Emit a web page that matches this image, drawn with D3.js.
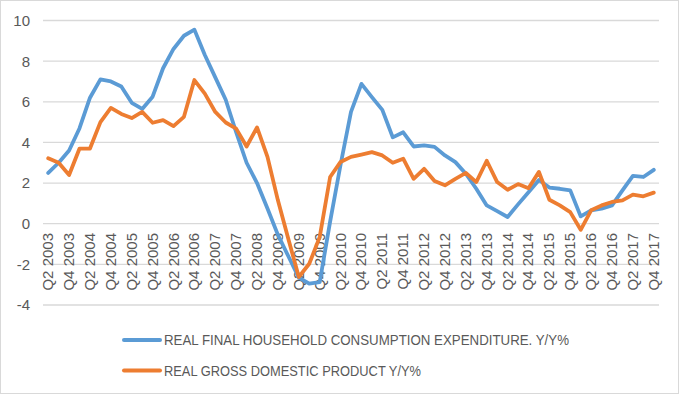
<!DOCTYPE html>
<html>
<head>
<meta charset="utf-8">
<script src="https://cdn.jsdelivr.net/npm/d3@7"></script>
<style>
  body { margin: 0; background: #fff; }
  text { font-family: "Liberation Sans", Arial, sans-serif; fill: #595959; }
</style>
</head>
<body>
<div id="chart"></div>
<script>
// quarters Q2 2003 .. Q4 2017
var quarters = [];
for (var yr = 2003; yr <= 2017; yr++) {
  for (var q = 1; q <= 4; q++) {
    if (yr === 2003 && q < 2) continue;
    quarters.push('Q' + q + ' ' + yr);
  }
}

var consumption = [2.5, 3.0, 3.6, 4.7, 6.2, 7.1, 7.0, 6.75, 5.95, 5.65,
  6.25, 7.65, 8.6, 9.25, 9.55, 8.3, 7.2, 6.1, 4.5, 3.0,
  2.0, 0.75, -0.55, -1.6, -2.65, -2.95, -2.88, 0.1, 2.9, 5.5,
  6.88, 6.23, 5.6, 4.25, 4.5, 3.8, 3.85, 3.78, 3.36, 3.03,
  2.46, 1.72, 0.9, 0.62, 0.33, 0.95, 1.55, 2.15, 1.78, 1.72,
  1.64, 0.36, 0.66, 0.74, 0.9, 1.64, 2.35, 2.3, 2.65];

var gdp = [3.22, 3.0, 2.4, 3.7, 3.7, 5.0, 5.7, 5.4, 5.2, 5.5,
  4.97, 5.1, 4.8, 5.26, 7.07, 6.4, 5.5, 4.98, 4.68, 3.8,
  4.74, 3.29, 1.15, -0.75, -2.62, -1.97, -0.66, 2.3, 3.04, 3.29,
  3.4, 3.52, 3.36, 3.0, 3.2, 2.21, 2.7, 2.1, 1.89, 2.21,
  2.5, 2.05, 3.1, 2.05, 1.67, 1.95, 1.75, 2.55, 1.18, 0.9,
  0.57, -0.3, 0.66, 0.9, 1.07, 1.15, 1.43, 1.35, 1.53];

var yTicks = [-4, -2, 0, 2, 4, 6, 8, 10];

var seriesNames = ['REAL FINAL HOUSEHOLD CONSUMPTION EXPENDITURE. Y/Y%', 'REAL GROSS DOMESTIC PRODUCT Y/Y%'];
var seriesColors = ['#5B9BD5', '#ED7D31'];

var width = 680, height = 395;

var svg = d3.select('#chart')
  .append('svg')
  .attr('width', width)
  .attr('height', height);

// outer border
svg.append('rect')
  .attr('x', 0.5).attr('y', 0.5)
  .attr('width', width - 2).attr('height', height - 2)
  .attr('fill', '#fff')
  .attr('stroke', '#d9d9d9');

var x = d3.scaleBand()
  .domain(quarters)
  .range([43, 659]);

var y = d3.scaleLinear()
  .domain([-4, 10])
  .range([305, 20.5]);

function cx(d) { return x(d) + x.bandwidth() / 2; }

// gridlines
svg.append('g')
  .selectAll('line')
  .data(yTicks)
  .enter()
  .append('line')
  .attr('x1', 43).attr('x2', 659)
  .attr('y1', function(d) { return y(d); })
  .attr('y2', function(d) { return y(d); })
  .attr('stroke', '#d9d9d9')
  .attr('stroke-width', 1.3);

// y labels
svg.append('g')
  .selectAll('text')
  .data(yTicks)
  .enter()
  .append('text')
  .attr('x', 30)
  .attr('y', function(d) { return y(d); })
  .attr('dy', '0.36em')
  .attr('text-anchor', 'end')
  .style('font-size', '15px')
  .text(function(d) { return d; });

// x labels every second quarter
svg.append('g')
  .selectAll('text')
  .data(quarters.filter(function(d, i) { return i % 2 === 0; }))
  .enter()
  .append('text')
  .attr('transform', function(d) {
    return 'translate(' + (cx(d) + 5) + ',233) rotate(-90)';
  })
  .attr('text-anchor', 'end')
  .style('font-size', '15px')
  .text(function(d) { return d; });

var line = d3.line()
  .x(function(d, i) { return cx(quarters[i]); })
  .y(function(d) { return y(d); });

[consumption, gdp].forEach(function(s, k) {
  svg.append('path')
    .datum(s)
    .attr('d', line)
    .attr('fill', 'none')
    .attr('stroke', seriesColors[k])
    .attr('stroke-width', 3.8)
    .attr('stroke-linejoin', 'round')
    .attr('stroke-linecap', 'round');
});

// legend
var legendW = [405, 257];
seriesNames.forEach(function(name, k) {
  var ly = 340 + k * 30.5;
  svg.append('line')
    .attr('x1', 124).attr('x2', 160)
    .attr('y1', ly).attr('y2', ly)
    .attr('stroke', seriesColors[k])
    .attr('stroke-width', 4)
    .attr('stroke-linecap', 'round');
  svg.append('text')
    .attr('x', 164)
    .attr('y', ly)
    .attr('dy', '0.36em')
    .attr('textLength', legendW[k])
    .attr('lengthAdjust', 'spacingAndGlyphs')
    .style('font-size', '15px')
    .text(name);
});
</script>
</body>
</html>
